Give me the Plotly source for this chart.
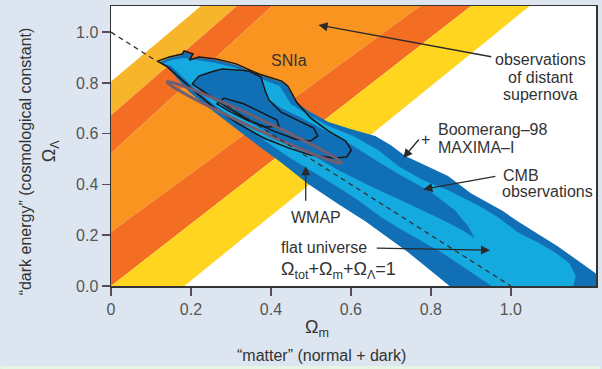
import numpy as np
import plotly.graph_objects as go

# ---------------- data ----------------
x_range = [0, 1.213]
y_range = [0, 1.103]
x_tickvals = [0, 0.2, 0.4, 0.6, 0.8, 1.0]
x_ticktext = ["0", "0.2", "0.4", "0.6", "0.8", "1.0"]
y_tickvals = [0, 0.2, 0.4, 0.6, 0.8, 1.0]
y_ticktext = ["0.0", "0.2", "0.4", "0.6", "0.8", "1.0"]

# supernova confidence band edges: Omega_L = intercept + slope * Omega_m
sn_edge_intercept = [0.806, 0.673, 0.523, 0.213, 0.0, -0.234]
sn_edge_slope = [1.32, 1.365, 1.44, 1.151, 1.225, 1.277]

# CMB contours (Omega_m, Omega_Lambda)
cmb_outer_m = [0.121, 0.146, 0.178, 0.183, 0.205, 0.196, 0.220, 0.263, 0.313, 0.370, 0.427, 0.440,
               0.462, 0.494, 0.544, 0.599, 0.661, 0.699, 0.736, 0.843, 0.900, 0.980, 1.017, 1.117,
               1.212, 1.227, 0.860, 0.743, 0.636, 0.569, 0.494, 0.462, 0.427, 0.370, 0.303, 0.245,
               0.196, 0.138]
cmb_outer_l = [0.882, 0.898, 0.910, 0.922, 0.910, 0.886, 0.898, 0.890, 0.871, 0.831, 0.804, 0.788,
               0.725, 0.689, 0.646, 0.618, 0.591, 0.555, 0.512, 0.433, 0.365, 0.295, 0.255, 0.157,
               0.050, -0.017, -0.017, 0.133, 0.255, 0.322, 0.401, 0.441, 0.485, 0.551, 0.630, 0.701,
               0.764, 0.866]

cmb_mid_m = [0.131, 0.151, 0.181, 0.210, 0.263, 0.313, 0.370, 0.422, 0.450, 0.494, 0.544, 0.606,
             0.669, 0.719, 0.781, 0.843, 0.918, 0.968, 1.017, 1.067, 1.110, 1.147, 1.162, 1.154,
             0.968, 0.826, 0.719, 0.676, 0.611, 0.556, 0.507, 0.445, 0.382, 0.320, 0.258, 0.208,
             0.151]
cmb_mid_l = [0.878, 0.890, 0.898, 0.890, 0.878, 0.859, 0.819, 0.788, 0.717, 0.673, 0.630, 0.591,
             0.535, 0.472, 0.417, 0.377, 0.318, 0.271, 0.212, 0.172, 0.133, 0.090, 0.038, -0.017,
             -0.017, 0.133, 0.228, 0.271, 0.346, 0.401, 0.448, 0.507, 0.575, 0.646, 0.713, 0.780,
             0.866]

cmb_inner_m = [0.201, 0.220, 0.245, 0.278, 0.345, 0.375, 0.385, 0.395, 0.425, 0.469, 0.519, 0.594,
               0.669, 0.719, 0.801, 0.860, 0.893, 0.910, 0.880, 0.831, 0.768, 0.719, 0.644, 0.569,
               0.507, 0.445, 0.382, 0.320, 0.258, 0.220]
cmb_inner_l = [0.796, 0.827, 0.839, 0.851, 0.843, 0.819, 0.772, 0.733, 0.701, 0.669, 0.626, 0.563,
               0.488, 0.441, 0.369, 0.298, 0.235, 0.188, 0.219, 0.259, 0.306, 0.342, 0.397, 0.456,
               0.512, 0.559, 0.614, 0.669, 0.733, 0.772]

# Boomerang-98 / MAXIMA-I contour lines
boom_1_m = [0.116, 0.146, 0.178, 0.183, 0.205, 0.196, 0.220, 0.263, 0.313, 0.370, 0.427, 0.442, 0.464,
            0.499, 0.544, 0.587, 0.601, 0.589, 0.557, 0.499, 0.445, 0.382, 0.320, 0.265, 0.220, 0.178,
            0.141, 0.116]
boom_1_l = [0.886, 0.902, 0.914, 0.926, 0.914, 0.890, 0.902, 0.894, 0.875, 0.835, 0.807, 0.788, 0.725,
            0.662, 0.610, 0.571, 0.535, 0.508, 0.504, 0.516, 0.543, 0.583, 0.638, 0.693, 0.752, 0.811,
            0.863, 0.886]
boom_2_m = [0.203, 0.220, 0.250, 0.278, 0.345, 0.375, 0.385, 0.395, 0.425, 0.469, 0.507, 0.517, 0.499,
            0.460, 0.407, 0.345, 0.290, 0.245, 0.203]
boom_2_l = [0.796, 0.827, 0.843, 0.855, 0.847, 0.823, 0.772, 0.733, 0.685, 0.650, 0.622, 0.591, 0.571,
            0.579, 0.610, 0.654, 0.705, 0.752, 0.796]
boom_3_m = [0.283, 0.333, 0.375, 0.415, 0.420, 0.390, 0.345, 0.300, 0.265, 0.283]
boom_3_l = [0.740, 0.717, 0.685, 0.654, 0.630, 0.626, 0.650, 0.685, 0.717, 0.740]

# WMAP ellipse: centre and end of major axis, semi-minor in px
wmap_center = (0.359, 0.644)
wmap_major_end = (0.577, 0.484)
wmap_semi_minor_px = 5.5

# flat universe line Omega_m + Omega_L = 1 (visible pieces)
flat_segments_m = [(0.0, 0.115), (0.29, 1.0)]

# ---------------- layout geometry ----------------
W, H = 602, 369
ML, MR, MT, MB = 111, 4, 6, 83
PW, PH = W - ML - MR, H - MT - MB
sx = PW / (x_range[1] - x_range[0])
sy = PH / (y_range[1] - y_range[0])

FONT = "Liberation Sans, Arial, sans-serif"
TXT = "#333333"

fig = go.Figure()

# supernova bands
band_colors = ["#f7b52b", "#f36e22", "#f8941f", "#f36e22", "#ffd51f"]
xe = np.array([-0.3, 1.5])
for i, col in enumerate(band_colors):
    up = sn_edge_intercept[i] + sn_edge_slope[i] * xe
    lo = sn_edge_intercept[i + 1] + sn_edge_slope[i + 1] * xe
    fig.add_trace(go.Scatter(x=[xe[0], xe[1], xe[1], xe[0], xe[0]],
                             y=[up[0], up[1], lo[1], lo[0], up[0]],
                             mode="lines", fill="toself", fillcolor=col,
                             line=dict(width=0), hoverinfo="skip", showlegend=False))

DARK = "#1170b5"
CYAN = "#14a9df"
for mx, ly, col in [(cmb_outer_m, cmb_outer_l, DARK), (cmb_mid_m, cmb_mid_l, CYAN),
                    (cmb_inner_m, cmb_inner_l, DARK)]:
    fig.add_trace(go.Scatter(x=mx + [mx[0]], y=ly + [ly[0]], mode="lines", fill="toself",
                             fillcolor=col, line=dict(width=0, color=col),
                             hoverinfo="skip", showlegend=False))

for mx, ly in [(boom_1_m, boom_1_l), (boom_2_m, boom_2_l), (boom_3_m, boom_3_l)]:
    fig.add_trace(go.Scatter(x=mx, y=ly, mode="lines", line=dict(width=1.5, color="#161616"),
                             hoverinfo="skip", showlegend=False))

# WMAP ellipse
ax_px = np.array([(wmap_major_end[0] - wmap_center[0]) * sx,
                  (wmap_major_end[1] - wmap_center[1]) * sy])
perp = np.array([-ax_px[1], ax_px[0]]) / np.hypot(*ax_px)
t = np.linspace(0, 2 * np.pi, 200)
ex = wmap_center[0] + (ax_px[0] * np.cos(t) + perp[0] * wmap_semi_minor_px * np.sin(t)) / sx
ey = wmap_center[1] + (ax_px[1] * np.cos(t) + perp[1] * wmap_semi_minor_px * np.sin(t)) / sy
fig.add_trace(go.Scatter(x=ex, y=ey, mode="lines", line=dict(width=3, color="#725e70"),
                         hoverinfo="skip", showlegend=False))

# flat universe dashed line
for a, b in flat_segments_m:
    fig.add_trace(go.Scatter(x=[a, b], y=[1 - a, 1 - b], mode="lines",
                             line=dict(width=1.3, color="#333333", dash="5px,4px"),
                             hoverinfo="skip", showlegend=False))

ann = []
def text(x, y, s, size=16, xanchor="left", **kw):
    ann.append(dict(x=x, y=y, xref="x", yref="y", text=s, showarrow=False, xanchor=xanchor,
                    yanchor="middle", font=dict(family=FONT, size=size, color=TXT), **kw))

def arrow(tip, tail):
    ann.append(dict(x=tip[0], y=tip[1], ax=tail[0], ay=tail[1], xref="x", yref="y",
                    axref="x", ayref="y", text="", showarrow=True, arrowhead=2, arrowsize=1.4,
                    arrowwidth=1.3, arrowcolor="#2a2a2a", standoff=0, startstandoff=0))

text(0.445, 0.890, "SNIa", xanchor="center")
text(1.075, 0.894, "observations", xanchor="center")
text(1.075, 0.823, "of distant", xanchor="center")
text(1.075, 0.756, "supernova", xanchor="center")
arrow((0.519, 1.028), (0.955, 0.902))
text(0.813, 0.618, "Boomerang–98")
text(0.813, 0.547, "MAXIMA–I")
text(0.786, 0.578, "+", xanchor="center")
arrow((0.731, 0.504), (0.773, 0.583))
text(0.975, 0.437, "CMB")
text(0.973, 0.373, "observations")
arrow((0.781, 0.381), (0.965, 0.433))
text(0.512, 0.271, "WMAP", xanchor="center")
arrow((0.487, 0.472), (0.487, 0.330))
text(0.420, 0.153, "flat universe")
arrow((0.948, 0.141), (0.661, 0.149))
text(0.420, 0.062, "Ω<sub>tot</sub>+Ω<sub>m</sub>+Ω<sub>Λ</sub>=1", size=18)

# axis titles
def ptext(x, y, s, size, angle=0):
    ann.append(dict(x=x, y=y, xref="paper", yref="paper", text=s, showarrow=False,
                    xanchor="center", yanchor="middle", textangle=angle,
                    font=dict(family=FONT, size=size, color=TXT)))

ptext((318 - ML) / PW, (H - MB - 328) / PH, "Ω<sub>m</sub>", 18)
ptext((322 - ML) / PW, (H - MB - 355) / PH, "“matter” (normal + dark)", 16)
ptext((51 - ML) / PW, (H - MB - 151) / PH, "Ω<sub>Λ</sub>", 18, -90)
ptext((25 - ML) / PW, (H - MB - 161) / PH, "“dark energy” (cosmological constant)", 16, -90)

axis_common = dict(showline=True, linecolor="#333333", linewidth=1.5, mirror=True,
                   ticks="outside", ticklen=8, tickwidth=1.5, tickcolor="#5d4a55",
                   showgrid=False, zeroline=False,
                   tickfont=dict(family=FONT, size=16, color="#555555"))

fig.update_layout(
    width=W, height=H,
    margin=dict(l=ML, r=MR, t=MT, b=MB),
    paper_bgcolor="#dde6f0", plot_bgcolor="#ffffff",
    xaxis=dict(range=x_range, tickvals=x_tickvals, ticktext=x_ticktext, **axis_common),
    yaxis=dict(range=y_range, tickvals=y_tickvals, ticktext=y_ticktext, **axis_common),
    annotations=ann,
    shapes=[dict(type="rect", xref="paper", yref="paper", x0=-ML / PW, x1=1 + MR / PW,
                 y0=-MB / PH, y1=(3 - MB) / PH, fillcolor="#e4f6e4", line=dict(width=0),
                 layer="below")],
    showlegend=False,
)

fig.write_html("out.html", config={"displayModeBar": False, "staticPlot": True},
               post_script="document.body.style.margin='0';document.body.style.overflow='hidden';")
